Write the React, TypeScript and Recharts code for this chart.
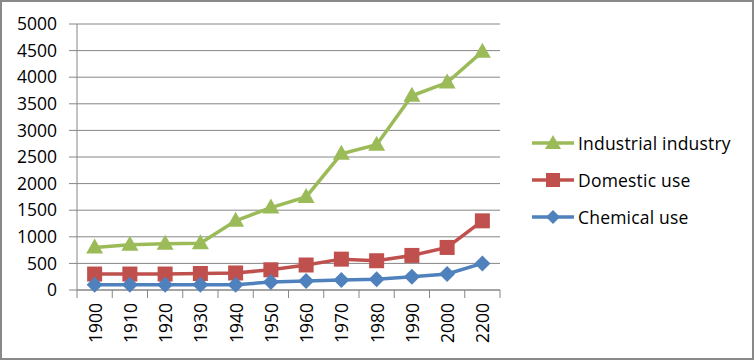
import { LineChart, Line, XAxis, YAxis, CartesianGrid } from 'recharts';

const years = ['1900', '1910', '1920', '1930', '1940', '1950', '1960', '1970', '1980', '1990', '2000', '2200'];
const industrial = [800, 850, 870, 880, 1300, 1550, 1750, 2560, 2730, 3650, 3900, 4480];
const domestic = [300, 300, 300, 310, 320, 380, 470, 580, 550, 650, 800, 1300];
const chemical = [100, 100, 100, 100, 100, 150, 170, 190, 200, 250, 300, 500];
const yTicks = [0, 500, 1000, 1500, 2000, 2500, 3000, 3500, 4000, 4500, 5000];

const data = years.map((year, i) => ({
  year,
  industrial: industrial[i],
  domestic: domestic[i],
  chemical: chemical[i],
}));

const GREEN = '#9BBB59';
const RED = '#C0504D';
const BLUE = '#4F81BD';
const GRID = '#868686';
const FONT = '"Open Sans", sans-serif';
const HALF_STEP = 17.625;

function Triangle({ cx, cy }: any) {
  if (cx == null || cy == null) return null;
  return <path d={`M${cx},${cy - 9} L${cx + 8.5},${cy + 6} L${cx - 8.5},${cy + 6} Z`} fill={GREEN} />;
}

function Square({ cx, cy }: any) {
  if (cx == null || cy == null) return null;
  return <rect x={cx - 7.5} y={cy - 7.5} width={15} height={15} fill={RED} />;
}

function Diamond({ cx, cy }: any) {
  if (cx == null || cy == null) return null;
  return <path d={`M${cx},${cy - 8} L${cx + 8},${cy} L${cx},${cy + 8} L${cx - 8},${cy} Z`} fill={BLUE} />;
}

function YearTick({ x, y, payload, index }: any) {
  return (
    <g>
      <line x1={x - HALF_STEP} x2={x - HALF_STEP} y1={y} y2={y + 8} stroke={GRID} />
      {index === years.length - 1 && (
        <line x1={x + HALF_STEP} x2={x + HALF_STEP} y1={y} y2={y + 8} stroke={GRID} />
      )}
      <text
        transform={`translate(${x},${y + 13}) rotate(-90)`}
        textAnchor="end"
        dominantBaseline="central"
        fontSize={17.5}
        fontFamily={FONT}
        fill="#000"
      >
        {payload.value}
      </text>
    </g>
  );
}

const legendItems = [
  { label: 'Industrial industry', color: GREEN, marker: 'triangle' },
  { label: 'Domestic use', color: RED, marker: 'square' },
  { label: 'Chemical use', color: BLUE, marker: 'diamond' },
];

function ChartLegend() {
  return (
    <div style={{ position: 'absolute', left: 530, top: 122, fontFamily: FONT, fontSize: 17.5, color: '#000' }}>
      {legendItems.map(item => (
        <div key={item.label} style={{ display: 'flex', alignItems: 'center', height: 37 }}>
          <svg width={46} height={20}>
            <line x1={0} x2={42} y1={10} y2={10} stroke={item.color} strokeWidth={3.5} />
            {item.marker === 'triangle' && <path d="M21,2 L29,16 L13,16 Z" fill={item.color} />}
            {item.marker === 'square' && <rect x={14} y={3} width={14} height={14} fill={item.color} />}
            {item.marker === 'diamond' && <path d="M21,3 L28,10 L21,17 L14,10 Z" fill={item.color} />}
          </svg>
          <span style={{ whiteSpace: 'nowrap', letterSpacing: 0.2 }}>{item.label}</span>
        </div>
      ))}
    </div>
  );
}

export default function App() {
  return (
    <div
      style={{
        position: 'absolute',
        left: 0,
        top: 0,
        width: 754,
        height: 360,
        border: '2px solid #898989',
        boxSizing: 'border-box',
        background: '#fff',
      }}
    >
      <div style={{ position: 'absolute', left: -2, top: -2 }}>
        <LineChart
          width={754}
          height={360}
          data={data}
          margin={{ top: 24, right: 254, bottom: 0, left: 0 }}
        >
          <CartesianGrid vertical={false} stroke={GRID} />
          <XAxis
            dataKey="year"
            interval={0}
            tickLine={false}
            tickSize={0}
            tickMargin={0}
            axisLine={{ stroke: GRID }}
            height={70}
            padding={{ left: HALF_STEP, right: HALF_STEP }}
            tick={<YearTick />}
          />
          <YAxis
            domain={[0, 5000]}
            ticks={yTicks}
            width={77}
            tickSize={8}
            tickMargin={12}
            tickLine={{ stroke: GRID }}
            axisLine={{ stroke: GRID }}
            tick={{ fontSize: 17.5, fontFamily: FONT, fill: '#000' }}
          />
          <Line
            dataKey="industrial"
            name="Industrial industry"
            stroke={GREEN}
            strokeWidth={3.5}
            dot={<Triangle />}
            activeDot={false}
            isAnimationActive={false}
          />
          <Line
            dataKey="domestic"
            name="Domestic use"
            stroke={RED}
            strokeWidth={3.5}
            dot={<Square />}
            activeDot={false}
            isAnimationActive={false}
          />
          <Line
            dataKey="chemical"
            name="Chemical use"
            stroke={BLUE}
            strokeWidth={3.5}
            dot={<Diamond />}
            activeDot={false}
            isAnimationActive={false}
          />
        </LineChart>
      </div>
      <ChartLegend />
    </div>
  );
}
